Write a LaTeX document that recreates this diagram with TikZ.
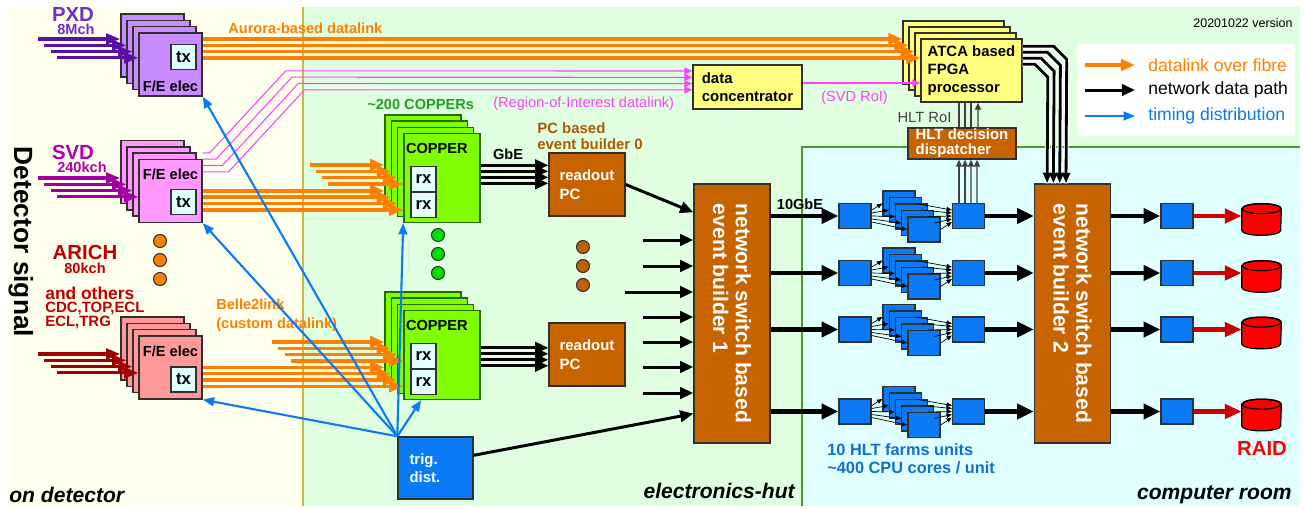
\documentclass[tikz,border=0pt]{standalone}
\usepackage{fontspec}
\setmainfont{Liberation Sans}
\usepackage{tikz}
\usetikzlibrary{arrows.meta, positioning, calc}
\definecolor{DetBg}{HTML}{FFFFEE}
\definecolor{HutBg}{HTML}{E0FFE0}
\definecolor{RoomBg}{HTML}{E0FFFF}
\definecolor{HutLine}{HTML}{C8B848}
\definecolor{RoomLine}{HTML}{4E9A2A}
\definecolor{PxdFill}{HTML}{C88CFF}
\definecolor{PxdText}{HTML}{7030C8}
\definecolor{PxdLine}{HTML}{5A10A0}
\definecolor{SvdFill}{HTML}{FF99FF}
\definecolor{SvdText}{HTML}{B000B0}
\definecolor{SvdLine}{HTML}{A000A0}
\definecolor{ArichFill}{HTML}{FF9999}
\definecolor{ArichText}{HTML}{C00000}
\definecolor{ArichLine}{HTML}{A00000}
\definecolor{FibreOrange}{HTML}{FF8000}
\definecolor{RoiPink}{HTML}{FF40FF}
\definecolor{BoxYellow}{HTML}{FFFF80}
\definecolor{CopperGreen}{HTML}{80FF00}
\definecolor{CopperText}{HTML}{20A020}
\definecolor{CopperLine}{HTML}{2A6A00}
\definecolor{PortCyan}{HTML}{E0FFFF}
\definecolor{EbBrown}{HTML}{C86400}
\definecolor{EbText}{HTML}{B05A00}
\definecolor{TimingBlue}{HTML}{0A7AF5}
\definecolor{FarmText}{HTML}{1070D0}
\definecolor{DotGreen}{HTML}{00E000}
\definecolor{DotBrown}{HTML}{C06000}
\definecolor{DiskRed}{HTML}{FF0000}
\definecolor{StoreRed}{HTML}{CC0000}
\definecolor{HltGray}{HTML}{404040}
\definecolor{Edge}{HTML}{303030}
\newdimen\pxu
\pxu=0.02cm

\begin{document}
\begin{tikzpicture}[
  x=0.02cm, y=-0.02cm,
  box/.style={rectangle, draw=Edge, line width=0.8pt, inner sep=0pt},
  fe/.style={box, minimum width=63\pxu, minimum height=63\pxu},
  copper/.style={box, fill=CopperGreen, draw=CopperLine, minimum width=76\pxu, minimum height=89\pxu},
  atca/.style={box, fill=BoxYellow, minimum width=101\pxu, minimum height=63\pxu},
  port/.style={box, fill=PortCyan, minimum width=25\pxu, minimum height=25\pxu,
               font=\fontsize{9.5}{11}\selectfont\bfseries},
  unit/.style={box, fill=TimingBlue, minimum width=32\pxu, minimum height=25\pxu},
  brownbox/.style={box, fill=EbBrown, text=white, align=left,
                   font=\fontsize{8.5}{10.8}\selectfont\bfseries},
  dot/.style={circle, draw=Edge, line width=0.6pt, minimum size=13\pxu, inner sep=0pt},
  lbl/.style={inner sep=0pt, align=left, font=\fontsize{8.3}{10.4}\selectfont\bfseries},
  big/.style={inner sep=0pt, font=\fontsize{11.6}{13}\selectfont\bfseries},
  note/.style={inner sep=0pt, align=left, font=\fontsize{8.3}{10.4}\selectfont},
  region/.style={inner sep=0pt, font=\fontsize{12}{14}\selectfont\bfseries\itshape},
  sig/.style={line width=1.8pt, -{Triangle[length=8pt, width=6pt]}},
  fibre/.style={FibreOrange, line width=2pt, -{Triangle[length=8pt, width=6.5pt]}},
  net/.style={black, line width=1.7pt, -{Triangle[length=7.5pt, width=6.5pt]}},
  bignet/.style={black, line width=2.3pt, -{Triangle[length=9.5pt, width=8.5pt]}},
  atcanet/.style={black, line width=1.6pt, -{Triangle[length=6pt, width=4.5pt]},
                  preaction={draw=white, line width=2.8pt, arrows=-}},
  store/.style={StoreRed, line width=2.3pt, -{Triangle[length=9.5pt, width=8pt]}},
  timing/.style={TimingBlue, line width=1.2pt, -{Triangle[length=6.5pt, width=5pt]}},
  roi/.style={RoiPink, line width=0.6pt, -{Triangle[length=4.5pt, width=4pt]}},
  farmlink/.style={black, line width=0.4pt, -{Triangle[length=3pt, width=2.5pt]}},
  vote/.style={HltGray, line width=0.6pt},
]
% one unit = one pixel of the 1304x508 sketch, y grows downwards
\useasboundingbox (0,0) rectangle (1304,508);
\fill[DetBg] (7,7) rectangle (303,506);
\fill[HutBg] (303,7) rectangle (1300,506);
\fill[RoomBg] (802,147) rectangle (1300,506);
\draw[HutLine, line width=0.8pt] (303,7) -- (303,506);
\draw[RoomLine, line width=0.8pt] (802,506) -- (802,147) -- (1300,147);

\node[region, anchor=base west] (ondet) at (9,502) {on detector};
\node[region, anchor=base east] (ehut) at (795,498) {electronics-hut};
\node[region, anchor=base east] (croom) at (1292,499) {computer room};
\node[rotate=-90, inner sep=0pt, font=\fontsize{15}{18}\selectfont\bfseries] (detsig) at (21,242) {Detector signal};
\node[note, font=\fontsize{7.1}{8}\selectfont] (version) at (1243,23) {20201022 version};

% detectors
\node[big, PxdText, anchor=base] (pxdname) at (73,21) {PXD};
\node[lbl, PxdText, anchor=north] (pxdch) at (76,23.5) {8Mch};
\node[big, SvdText] (svdname) at (73,152) {SVD};
\node[lbl, SvdText] (svdch) at (82,167) {240kch};
\node[big, ArichText] (arichname) at (85,252) {ARICH};
\node[lbl, ArichText] (arichch) at (85,268) {80kch};
\node[lbl, ArichText, anchor=west, font=\fontsize{9.9}{11}\selectfont\bfseries] (others) at (45,293) {and others};
\node[lbl, ArichText, anchor=west, font=\fontsize{8.5}{8}\selectfont\bfseries] (othersub) at (45,315) {CDC,TOP,ECL\\ECL,TRG};

% front-end stacks, back layer first; only the front layer is labelled
\foreach \dt/\cy/\clr/\fy/\ty in {pxd/45.5/PxdFill/21.5/-7.5, svd/172/SvdFill/-17/11, arich/348.5/ArichFill/-16.5/12} {
  \foreach \k in {0,...,3}
    \node[fe, fill=\clr] (\dt\k) at (152.5+6*\k, \cy+6.3*\k) {};
  \node[lbl] (\dt fe) at ($(\dt3)+(0,\fy)$) {F/E elec};
  \node[port] (\dt tx) at ($(\dt3)+(13,\ty)$) {tx};
}
\foreach \dt/\yy/\clr in {pxd/39/PxdLine, svd/178/SvdLine, arich/354/ArichLine}
  \foreach \k in {0,...,3} {
    \coordinate (\dt in\k) at (38+6.3*\k, \yy+6.3*\k);
    \draw[sig, \clr] (\dt in\k) -- (\dt in\k -| \dt\k.west);
  }

\foreach \n/\yy in {0/241, 1/260, 2/279} \node[dot, fill=FibreOrange] (odot\n) at (160,\yy) {};
\foreach \n/\yy in {0/235, 1/254, 2/273} \node[dot, fill=DotGreen] (gdot\n) at (438,\yy) {};
\foreach \n/\yy in {0/247, 1/266, 2/285} \node[dot, fill=DotBrown] (bdot\n) at (583,\yy) {};

% COPPER stacks
\foreach \cp/\cy in {cu/159.5, cl/336.5} {
  \foreach \k in {0,...,3}
    \node[copper] (\cp\k) at (423+6.3*\k, \cy+6.1*\k) {};
  \node[lbl, anchor=west] (\cp name) at ($(\cp3.north west)+(2.5,15.5)$) {COPPER};
  \node[port] (\cp rx1) at ($(\cp3)+(-18.5,1)$) {rx};
  \node[port, below=0pt of \cp rx1] (\cp rx2) {rx};
}

\foreach \k in {0,...,3} \node[atca] (atca\k) at (953.5+6*\k, 52.5+6*\k) {};
\node[lbl, font=\fontsize{8.5}{10.2}\selectfont\bfseries] (atcat) at (atca3) {ATCA based\\FPGA\\processor};
\node[box, fill=BoxYellow, minimum width=109\pxu, minimum height=44\pxu, align=left,
      font=\fontsize{8.5}{10.2}\selectfont\bfseries] (dc) at (747.5,87) {data\\concentrator};

\node[brownbox, minimum width=76\pxu, minimum height=63\pxu] (rpc0) at (587,184.5) {readout\\PC};
\node[brownbox, minimum width=76\pxu, minimum height=63\pxu] (rpc1) at (587,354.5) {readout\\PC};
\node[box, fill=TimingBlue, text=white, minimum width=75\pxu, minimum height=62\pxu, align=left,
      text width=52\pxu, font=\fontsize{8.5}{10.2}\selectfont\bfseries] (trig) at (435.5,468) {trig.\\dist.};
\node[brownbox, minimum width=108\pxu, minimum height=31\pxu,
      font=\fontsize{8.5}{8.6}\selectfont\bfseries] (hlt) at (962,143.5) {HLT decision\\dispatcher};

\foreach \n/\xx in {1/732, 2/1072.5} {
  \node[box, fill=EbBrown, minimum width=76\pxu, minimum height=259\pxu] (eb\n) at (\xx,313.5) {};
  \node[rotate=-90, text=white, align=left, inner sep=0pt,
        font=\fontsize{12}{13}\selectfont\bfseries] (eb\n t) at (eb\n) {network switch based\\event builder \n};
}

% HLT units, storage and RAID disks
\foreach \r/\yy in {0/216, 1/273, 2/329.5, 3/411.5} {
  \node[unit] (hin\r) at (855,\yy) {};
  \foreach \j in {0,...,4} \node[unit] (hw\r\j) at (899+6.25*\j, \yy-12.5+6.5*\j) {};
  \node[unit] (hout\r) at (968.5,\yy) {};
  \node[unit] (st\r) at (1177,\yy) {};
  \node[minimum width=39\pxu, minimum height=31\pxu, inner sep=0pt] (raid\r) at (1261.5,\yy+3.5) {};
  \filldraw[fill=DiskRed, draw=black, line width=0.7pt]
    ($(raid\r.north west)+(0,5)$) -- ($(raid\r.south west)+(0,-5)$)
    arc[start angle=180, end angle=360, x radius=19.5\pxu, y radius=5\pxu]
    -- ($(raid\r.north east)+(0,5)$)
    arc[start angle=0, end angle=180, x radius=19.5\pxu, y radius=5\pxu] -- cycle;
  \draw[black, line width=0.7pt] ($(raid\r.north)+(0,5)$) ellipse[x radius=19.5\pxu, y radius=5\pxu];
  \draw[bignet] (eb1.east |- hin\r) -- (hin\r);
  \foreach \j in {0,...,4} {
    \draw[farmlink] ($(hin\r.east)+(0,-6+3*\j)$) -- (hw\r\j.west);
    \draw[farmlink] (hw\r\j.east) -- ($(hout\r.west)+(0,-6+3*\j)$);
  }
  \draw[bignet] (hout\r) -- (eb2.west |- hout\r);
  \draw[bignet] (eb2.east |- st\r) -- (st\r);
  \draw[store] (st\r.east) -- (st\r.east -| raid\r.west);
}

% labels
\node[lbl, FibreOrange, anchor=west] (aurora) at (228,28) {Aurora-based datalink};
\node[note, RoiPink, anchor=west] (roilbl) at (493,104) {(Region-of-Interest datalink)};
\node[note, RoiPink, anchor=west] (svdroi) at (821,98) {(SVD RoI)};
\node[lbl, CopperText, anchor=west] (ncopper) at (367,104) {\textasciitilde 200 COPPERs};
\node[lbl, FibreOrange, anchor=west, font=\fontsize{8.3}{10.8}\selectfont\bfseries] (b2l) at (216,315.5) {Belle2link\\(custom datalink)};
\node[lbl, EbText, anchor=west, font=\fontsize{8.5}{9.2}\selectfont\bfseries] (pceb) at (537,136) {PC based\\event builder 0};
\node[lbl] (gbe) at (508,154) {GbE};
\node[lbl] (tengbe) at (800,204) {10GbE};
\node[note, HltGray, font=\fontsize{8.4}{10}\selectfont] (hltroi) at (924.5,117) {HLT RoI};
\node[lbl, FarmText, anchor=west, font=\fontsize{9.3}{10.2}\selectfont\bfseries] (farms) at (827,459) {10 HLT farms units\\\textasciitilde 400 CPU cores / unit};
\node[big, DiskRed] (raidlbl) at (1262,448) {RAID};

% datalinks
\foreach \k in {0,...,3} {
  \coordinate (pxdout\k) at ($(pxd3.east)+(0,-25.4+6.3*\k)$);
  \draw[fibre] (pxdout\k) -- (pxdout\k -| atca\k.west);
  \coordinate (svdout\k) at ($(svd3.east)+(0,6.3*\k)$);
  \draw[fibre] (svdout\k) -- (svdout\k -| cu\k.west);
  \coordinate (cuext\k) at (310+6*\k, 165+6.3*\k);
  \draw[fibre] (cuext\k) -- (cuext\k -| cu\k.west);
  \coordinate (arichout\k) at ($(arich3.east)+(0,6.3*\k)$);
  \draw[fibre] (arichout\k) -- (arichout\k -| cl\k.west);
  \coordinate (clext\k) at (272+6.3*\k, 342+6.3*\k);
  \draw[fibre] (clext\k) -- (clext\k -| cl\k.west);
  \coordinate (roi\k) at ($(svd3.east)+(0,-38+6.3*\k)$);
  \draw[roi] (roi\k) -- ++(7+6.3*\k,0) -- ++(76,-82) -- ($(dc.west)+(0,-16+6.3*\k)$);
  \coordinate (atcaout\k) at ($(atca3.north east)+(0,8+6*\k)$);
  \draw[atcanet] (atcaout\k) -- ++(31-6.3*\k,0) -- ++(13,13) -- ($(eb2.north)+(-6.5-6.3*\k,0)$);
}
\coordinate (dcout) at ($(dc.east)+(0,-4)$);
\draw[roi] (dcout) -- (dcout -| atca3.west);

% network paths
\foreach \cp/\rp/\dy in {cu/rpc0/-12.5, cl/rpc1/-7}
  \foreach \k in {0,...,3} {
    \coordinate (\cp gbe\k) at ($(\cp3.east)+(0,\dy+6*\k)$);
    \draw[net] (\cp gbe\k) -- (\cp gbe\k -| \rp.west);
  }
\draw[net] (rpc0.east) -- ($(eb1.north west)+(0,29)$);
\foreach \yy/\xx in {240/643, 266/643, 292/625, 317/643, 342/643, 367/643, 393/643} {
  \coordinate (ebin\yy) at (\xx,\yy);
  \draw[net] (ebin\yy) -- (ebin\yy -| eb1.west);
}
\draw[net] ($(trig.north east)+(0,19)$) -- ($(eb1.south west)+(0,-30)$);

\foreach \xx in {959,965,971,977}
  \draw[vote, -{Triangle[length=4pt, width=3.5pt]}] ($(hout0.north)+(\xx-968.5,0)$) -- ($(hlt.south)+(\xx-962,0)$);
\foreach \xx in {959,965,971}
  \draw[vote] ($(hlt.north)+(\xx-962,0)$) -- ($(atca3.south)+(\xx-971.5,0)$);
\draw[vote, -{Triangle[length=4pt, width=3.5pt]}] ($(hlt.north)+(16,0)$) -- ($(atca3.south)+(6.5,0)$);

% timing distribution
\foreach \tg in {pxd3.south east, svd3.south east, arich3.south east, cu3.south west}
  \draw[timing] (trig.north west) -- (\tg);
\draw[timing] (trig.north west) -- ($(cl3.south west)+(18,0)$);

% legend
\node[fill=white, inner sep=0pt, minimum width=218\pxu, minimum height=92\pxu] (legend) at (1186,90) {};
\foreach \n/\yy/\clr/\txt/\sty in {0/65/FibreOrange/datalink over fibre/fibre, 1/90/black/network data path/net, 2/116/TimingBlue/timing distribution/timing} {
  \node[anchor=west, inner sep=0pt, \clr, font=\fontsize{10}{12}\selectfont] (lg\n) at (1148,\yy) {\txt};
  \draw[\sty] ($(lg\n.west)+(-63,0)$) -- ($(lg\n.west)+(-13,0)$);
}
\end{tikzpicture}
\end{document}
